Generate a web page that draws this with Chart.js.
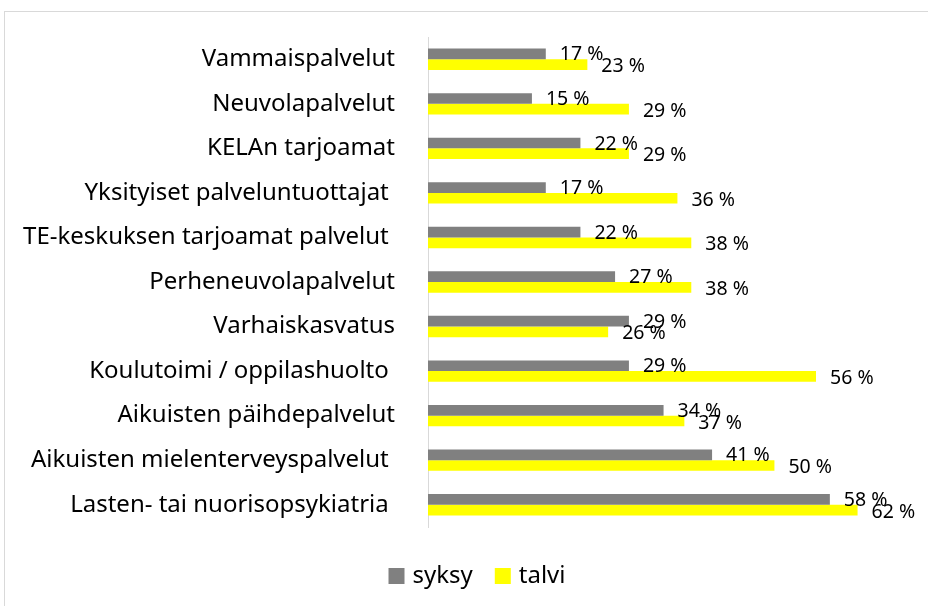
<!DOCTYPE html>
<html>
<head>
<meta charset="utf-8">
<script src="https://cdn.jsdelivr.net/npm/chart.js@4"></script>
<style>
html,body{margin:0;padding:0;background:#fff;}
#wrap{width:928px;height:606px;position:relative;}
</style>
</head>
<body>
<div id="wrap"><canvas id="c" width="928" height="606"></canvas></div>
<script>
const categories = [
  "Vammaispalvelut",
  "Neuvolapalvelut",
  "KELAn tarjoamat",
  "Yksityiset palveluntuottajat ",
  "TE-keskuksen tarjoamat palvelut ",
  "Perheneuvolapalvelut",
  "Varhaiskasvatus",
  "Koulutoimi / oppilashuolto ",
  "Aikuisten päihdepalvelut",
  "Aikuisten mielenterveyspalvelut ",
  "Lasten- tai nuorisopsykiatria "
];
const syksy = [17, 15, 22, 17, 22, 27, 29, 29, 34, 41, 58];
const talvi = [23, 29, 29, 36, 38, 38, 26, 56, 37, 50, 62];
const seriesNames = ["syksy", "talvi"];

const FONT = "'Noto Sans', sans-serif";

const framePlugin = {
  id: 'frame',
  beforeDraw(chart) {
    const ctx = chart.ctx;
    ctx.save();
    ctx.fillStyle = '#fff';
    ctx.fillRect(0, 0, chart.width, chart.height);
    ctx.strokeStyle = '#d9d9d9';
    ctx.lineWidth = 1;
    ctx.strokeRect(4.5, 11.5, 1000, 1000);
    ctx.restore();
  }
};

const labelPlugin = {
  id: 'barLabels',
  afterDatasetsDraw(chart) {
    const ctx = chart.ctx;
    ctx.save();
    ctx.font = "19.5px " + FONT;
    ctx.fillStyle = '#000';
    ctx.textAlign = 'left';
    ctx.textBaseline = 'middle';
    chart.data.datasets.forEach((ds, di) => {
      const meta = chart.getDatasetMeta(di);
      meta.data.forEach((bar, i) => {
        ctx.fillText(ds.data[i] + ' %', bar.x + 14, bar.y + (di === 0 ? 1 : 2));
      });
    });
    ctx.restore();
  }
};

// Legend drawn below the plot, centred on the (wider) chart frame
const legendPlugin = {
  id: 'customLegend',
  afterDraw(chart) {
    const ctx = chart.ctx;
    ctx.save();
    ctx.font = "24px " + FONT;
    ctx.textBaseline = 'alphabetic';
    ctx.textAlign = 'left';
    const box = 16, gapText = 8, gapItem = 22;
    const items = chart.data.datasets.map(ds => ({
      text: ds.label, color: ds.backgroundColor, w: ctx.measureText(ds.label).width
    }));
    let total = 0;
    items.forEach((it, i) => { total += box + gapText + it.w + (i < items.length - 1 ? gapItem : 0); });
    let x = 477 - total / 2;
    const baseY = 583;
    items.forEach(it => {
      ctx.fillStyle = it.color;
      ctx.fillRect(x, 568, box, box);
      x += box + gapText;
      ctx.fillStyle = '#000';
      ctx.fillText(it.text, x, baseY);
      x += it.w + gapItem;
    });
    ctx.restore();
  }
};

new Chart(document.getElementById('c'), {
  type: 'bar',
  data: {
    labels: categories,
    datasets: [
      { label: seriesNames[0], data: syksy, backgroundColor: '#808080', borderWidth: 0 },
      { label: seriesNames[1], data: talvi, backgroundColor: '#ffff00', borderWidth: 0 }
    ]
  },
  options: {
    indexAxis: 'y',
    responsive: false,
    animation: false,
    devicePixelRatio: 1,
    categoryPercentage: 0.48,
    barPercentage: 1.0,
    layout: { padding: { top: 37, right: 15, left: 0, bottom: 79 } },
    plugins: {
      legend: { display: false },
      tooltip: { enabled: false }
    },
    scales: {
      x: { display: false, min: 0, max: 70 },
      y: {
        grid: { display: false, drawTicks: false },
        border: { display: true, color: '#d9d9d9', width: 1 },
        ticks: { font: { family: FONT, size: 24 }, color: '#000', padding: 33, autoSkip: false },
        afterFit(scale) { scale.width = 428; scale.paddingTop = 0; scale.paddingBottom = 0; }
      }
    }
  },
  plugins: [framePlugin, labelPlugin, legendPlugin]
});
</script>
</body>
</html>
